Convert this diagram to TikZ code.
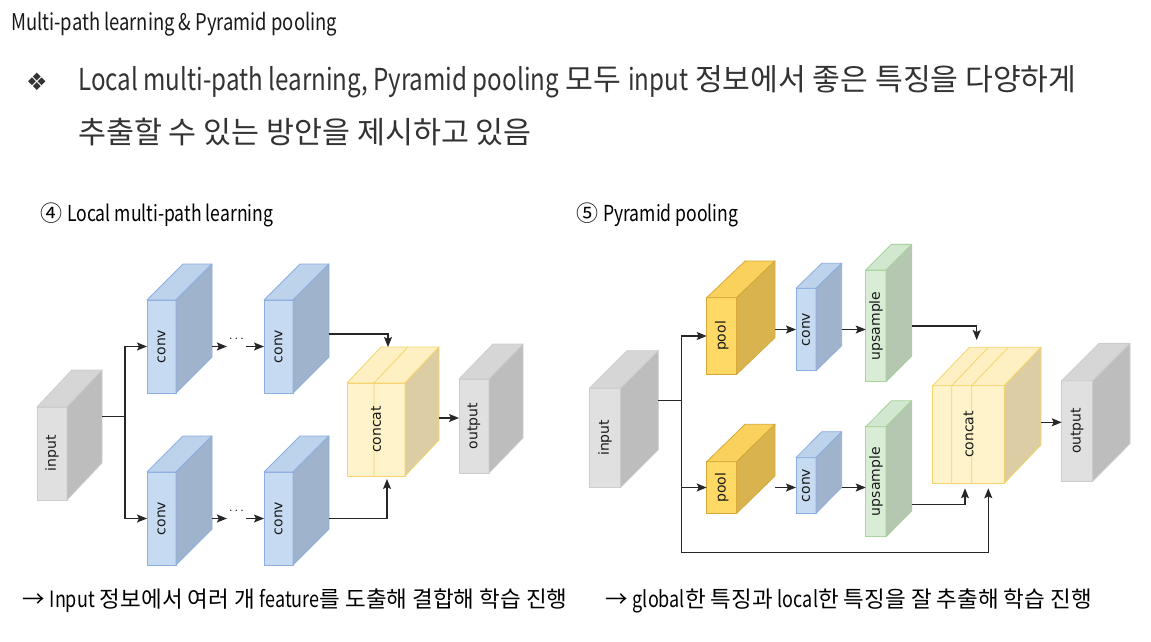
\documentclass[tikz,border=0pt]{standalone}
\usepackage{fontspec}
\setmainfont{Noto Sans CJK KR}
\newfontfamily\nlat[FakeStretch=0.80]{Noto Sans CJK KR}
\newfontfamily\labelfont{DejaVu Sans}
\usepackage{xcolor}
\usetikzlibrary{calc,arrows.meta}

% face colours: F front, T top, S side, D stroke
\definecolor{grayF}{RGB}{224,224,224}
\definecolor{grayT}{RGB}{214,214,214}
\definecolor{grayS}{RGB}{189,189,189}
\definecolor{grayD}{RGB}{205,205,205}
\definecolor{blueF}{RGB}{198,219,242}
\definecolor{blueT}{RGB}{189,211,236}
\definecolor{blueS}{RGB}{159,180,204}
\definecolor{blueD}{RGB}{140,174,224}
\definecolor{catF}{RGB}{255,243,204}
\definecolor{catT}{RGB}{255,240,196}
\definecolor{catS}{RGB}{220,205,165}
\definecolor{catD}{RGB}{245,212,106}
\definecolor{poolF}{RGB}{255,217,102}
\definecolor{poolT}{RGB}{249,209,92}
\definecolor{poolS}{RGB}{217,180,78}
\definecolor{poolD}{RGB}{214,168,56}
\definecolor{upF}{RGB}{217,237,214}
\definecolor{upT}{RGB}{210,231,207}
\definecolor{upS}{RGB}{181,198,177}
\definecolor{upD}{RGB}{167,212,156}
\definecolor{txtgray}{RGB}{51,51,51}

% #1 name, #2 colour kind, #3 front centre, #4 width, #5 height, #6 depth offset, #7 label
\newcommand{\cube}[7]{%
  \node[draw=#2D, fill=#2F, line width=0.8pt, inner sep=0pt, outer sep=0pt,
        minimum width=#4, minimum height=#5] (#1) at (#3) {};
  \node[inner sep=0pt, outer sep=0pt, minimum width=#4, minimum height=#5] (#1-b) at ($(#3)+(#6)$) {};
  \filldraw[draw=#2D, fill=#2T, line width=0.8pt, line join=round]
    (#1.north west) -- (#1-b.north west) -- (#1-b.north east) -- (#1.north east) -- cycle;
  \filldraw[draw=#2D, fill=#2S, line width=0.8pt, line join=round]
    (#1.north east) -- (#1-b.north east) -- (#1-b.south east) -- (#1.south east) -- cycle;
  \node[rotate=90, text=black!90, font=\labelfont\fontsize{14}{14}\selectfont] (#1-l) at (#1) {#7};
}

\begin{document}
\begin{tikzpicture}[x=1pt,y=-1pt,>={Stealth[length=10pt,width=8pt,inset=2pt]}]
        \tikzstyle{link}=[->,line width=1.2pt,black!85]
        \tikzstyle{wire}=[line width=1.2pt,black!85]
        \tikzstyle{head}=[anchor=base west,inner sep=0pt]

        \fill[white] (0,0) rectangle (1151,642);
        \useasboundingbox (0,0) rectangle (1151,642);

        % texts
        \node[head,text=black!90,font=\nlat\fontsize{23}{23}\selectfont] (title) at (11,31) {Multi-path learning \& Pyramid pooling};
        \node[head,text=txtgray,font=\labelfont\fontsize{24}{24}\selectfont] (bul) at (26,90) {❖};
        \node[head,text=txtgray,font=\fontsize{30.2}{30.2}\selectfont] (line1) at (78,91) {{\nlat Local multi-path learning, Pyramid pooling} 모두 {\nlat input} 정보에서 좋은 특징을 다양하게};
        \node[head,text=txtgray,font=\fontsize{30.4}{30.4}\selectfont] (line2) at (78,143) {추출할 수 있는 방안을 제시하고 있음};
        \node[head,font=\fontsize{22}{22}\selectfont] (sec4) at (40,221) {④ {\nlat Local multi-path learning}};
        \node[head,font=\fontsize{22}{22}\selectfont] (sec5) at (576,221) {⑤ {\nlat Pyramid pooling}};
        \node[head,font=\fontsize{22.5}{22.5}\selectfont] (note4) at (22,607) {→ {\nlat Input} 정보에서 여러 개 {\nlat feature}를 도출해 결합해 학습 진행};
        \node[head,font=\fontsize{22.5}{22.5}\selectfont] (note5) at (605,607) {→ {\nlat global}한 특징과 {\nlat local}한 특징을 잘 추출해 학습 진행};

        % local multi-path learning
        \cube{in1}{gray}{52,453.5}{30pt}{93pt}{35,-37}{input}
        \cube{c1a}{blue}{161.5,346.5}{29pt}{93pt}{36,-36}{conv}
        \cube{c1b}{blue}{278.5,346.5}{29pt}{93pt}{36,-36}{conv}
        \cube{c1c}{blue}{161.5,518.5}{29pt}{93pt}{36,-36}{conv}
        \cube{c1d}{blue}{278.5,518.5}{29pt}{93pt}{36,-36}{conv}
        \cube{cat1}{cat}{376,429.5}{58pt}{93pt}{34,-36}{}
        \draw[catD,line width=0.8pt] ([xshift=27pt]cat1.north west) -- ([xshift=27pt]cat1.south west)
                                      ([xshift=27pt]cat1.north west) -- ([xshift=27pt]cat1-b.north west);
        \node[rotate=90, text=black!90, font=\labelfont\fontsize{14}{14}\selectfont] (cat1-l) at (cat1) {concat};
        \cube{out1}{gray}{474,426}{30pt}{94pt}{34,-35}{output}

        \node[inner sep=1pt,font=\fontsize{10}{10}\selectfont] (d1) at (236.5,340) {···};
        \node[inner sep=1pt,font=\fontsize{10}{10}\selectfont] (d2) at (236.5,512) {···};

        \draw[wire] (in1-b.east) -- ++(23,0) coordinate (sp1);
        \draw[link] (sp1) |- (c1a.west);
        \draw[link] (sp1) |- (c1c.west);
        \draw[link] (c1a-b.east |- c1a.east) -- (d1.west |- c1a.east);
        \draw[link] (d1.east |- c1b.west) -- (c1b.west);
        \draw[link] (c1c-b.east |- c1c.east) -- (d2.west |- c1c.east);
        \draw[link] (d2.east |- c1d.west) -- (c1d.west);
        \draw[link] ($(c1b-b.east)+(0,23.5)$) -| ($(cat1-b.north)+(-22,0)$);
        \draw[link] (c1d-b.east |- c1d.east) -| ($(cat1.south)+(11,3)$);
        \draw[link] ($(cat1-b.east)+(0,24.5)$) coordinate (o1) -- (o1 -| out1.west);

        % pyramid pooling
        \cube{in2}{gray}{605,437.8}{31.4pt}{99pt}{37.6,-37.6}{input}
        \cube{p2a}{pool}{721.7,336}{30pt}{76.6pt}{38.3,-36.7}{pool}
        \cube{cv2a}{blue}{806,329.5}{20pt}{82.4pt}{25.7,-25}{conv}
        \cube{up2a}{up}{875.9,325.9}{20.3pt}{111.7pt}{25.7,-25.7}{upsample}
        \cube{p2b}{pool}{721.7,487.5}{30pt}{51.6pt}{38.3,-37.4}{pool}
        \cube{cv2b}{blue}{806,485.5}{20pt}{55.6pt}{25.7,-26}{conv}
        \cube{up2b}{up}{875.9,481.7}{20.3pt}{110pt}{25.7,-26}{upsample}
        \cube{cat2}{cat}{968.5,434.5}{71.6pt}{97.6pt}{36.7,-38.4}{}
        \foreach \s in {19,39}
          \draw[catD,line width=0.8pt] ([xshift=\s pt]cat2.north west) -- ([xshift=\s pt]cat2.south west)
                                        ([xshift=\s pt]cat2.north west) -- ([xshift=\s pt]cat2-b.north west);
        \node[rotate=90, text=black!90, font=\labelfont\fontsize{14}{14}\selectfont] (cat2-l) at (cat2) {concat};
        \cube{out2}{gray}{1077.2,430.9}{31pt}{100.3pt}{37.3,-37.4}{output}

        \draw[wire] (in2-b.east) -- ++(23.4,0) coordinate (sp2);
        \draw[link] (sp2) |- (p2a.west);
        \draw[link] (sp2) |- (p2b.west);
        \draw[link] (sp2) -- ++(0,152.6) -| ($(cat2.south)+(19.8,5)$);
        \draw[link] (p2a-b.east |- cv2a.west) -- (cv2a.west);
        \draw[link] (cv2a-b.east |- cv2a.east) -- (cv2a.east -| up2a.west);
        \draw[link] (p2b-b.east |- p2b.east) -- (p2b.east -| cv2b.west);
        \draw[link] (cv2b-b.east |- p2b.east) -- (p2b.east -| up2b.west);
        \draw[link] (up2a-b.east |- up2a.east) -| ($(cat2-b.north)+(-28.5,-7.3)$);
        \draw[link] ($(up2b-b.east)+(0,48.6)$) -| ($(cat2.south)+(-3.5,5)$);
        \draw[link] ($(cat2-b.east)+(0,26.2)$) coordinate (o2) -- (o2 -| out2.west);
\end{tikzpicture}
\end{document}
